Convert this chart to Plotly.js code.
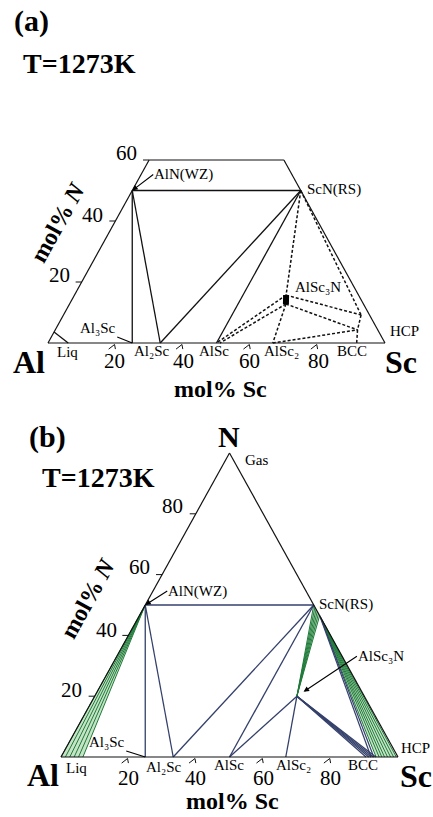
<!DOCTYPE html>
<html>
<head>
<meta charset="utf-8">
<script src="https://cdn.plot.ly/plotly-3.0.1.min.js"></script>
<style>
  html, body { margin: 0; padding: 0; background: #fff; }
  #chart { width: 433px; height: 817px; }
</style>
</head>
<body>
<div id="chart"></div>
<script>
// Al–Sc–N isothermal sections at 1273 K.
// All compositions are mol% Sc and mol% N (Al is the balance).

const TICKS = [20, 40, 60, 80];

// ---- (a) section, truncated at 60 mol% N ----
const aPhaseName = ['AlN', 'ScN', 'Al3Sc', 'Al2Sc', 'AlSc', 'AlSc_r', 'AlSc2', 'AlSc3N_t', 'AlSc3N_b', 'P1', 'P2', 'BCC', 'LiqN', 'LiqSc'];
const aPhaseSc   = [0,     50,    25,      33.3,    50,     51,       66.7,    62.8,       64.2,       88.3, 89.7, 91.6,  0,      6];
const aPhaseN    = [50,    50,    0,       0,       0,      0,        0,       15.7,       12.8,       9.2,  4.3,  0,     3.6,    0];
const aSolidTies = [['AlN', 'ScN'], ['AlN', 'Al3Sc'], ['AlN', 'Al2Sc'], ['Al2Sc', 'ScN'], ['AlSc', 'ScN'], ['LiqN', 'LiqSc']];
const aDashedTies = [['ScN', 'AlSc3N_t'], ['ScN', 'P1'], ['AlSc3N_t', 'P1'], ['AlSc3N_b', 'P2'],
                     ['AlSc3N_b', 'AlSc2'], ['AlSc3N_t', 'AlSc'], ['AlSc3N_b', 'AlSc_r'],
                     ['AlSc2', 'P2'], ['P1', 'P2'], ['P2', 'BCC']];
const aTopN = 60;

// ---- (b) full section ----
const bPhaseName = ['AlN', 'ScN', 'Al3Sc', 'Al2Sc', 'AlSc', 'AlSc2', 'AlSc3N'];
const bPhaseSc   = [0,     50,    25,      33.3,    50,     66.7,    60];
const bPhaseN    = [50,    50,    0,       0,       0,      0,       20];
const bNavyTies = [['AlN', 'ScN'], ['AlN', 'Al3Sc'], ['AlN', 'Al2Sc'], ['Al2Sc', 'ScN'],
                   ['AlSc', 'ScN'], ['AlSc', 'AlSc3N'], ['AlSc2', 'AlSc3N']];
// AlSc3N + BCC tie-lines, BCC end (mol% Sc)
const bBccFromAlSc3N = [90.5, 91.3, 92.0, 92.7, 93.4];
// ScN + BCC tie-lines: ScN end (mol% N on the Al-free edge) and BCC end (mol% Sc)
const bScnBccN  = [46.5, 46.0];
const bScnBccSc = [92.0, 92.8];
// ScN + AlSc3N tie-lines, ScN end (mol% N on the Al-free edge)
const bScnAlSc3nN = [50, 49.3, 48.6, 47.9, 47.2, 46.5];
// ScN + HCP tie-lines
const bScnHcpN  = [46.0, 45.6, 45.3, 45.0, 44.6, 44.3, 43.9, 43.5];
const bScnHcpSc = [93.5, 94.4, 95.2, 96.0, 96.9, 97.8, 98.7, 99.5];
// AlN + liquid tie-lines, liquid end (mol% Sc)
const bAlnLiqSc = [0, 1.3, 2.6, 3.9, 5.2, 6.5];

// ---------------------------------------------------------------
const W = 433, H = 817;
const SERIF = '"Liberation Serif", "Times New Roman", serif';
const NAVY = '#34406b';
const GREEN = '#1f7a3a';
const GREEN_FILL = 'rgba(150, 205, 150, 0.55)';

// pixel frame of each diagram: Al corner and scale (px per mol%)
const frameA = { x0: 48, y0: 343, sx: 3.37, sy: 3.05 };
const frameB = { x0: 61, y0: 757, sx: 3.37, sy: 3.04 };

// ternary -> cartesian (x along the Al–Sc base, y = mol% N)
const tx = (sc, n) => sc + n / 2;

function lookup(names, scs, ns) {
  const m = {};
  names.forEach((nm, i) => { m[nm] = [scs[i], ns[i]]; });
  return m;
}
const A = lookup(aPhaseName, aPhaseSc, aPhaseN);
const B = lookup(bPhaseName, bPhaseSc, bPhaseN);

function segTrace(segs, xa, ya, line) {
  const x = [], y = [];
  segs.forEach(s => {
    x.push(tx(s[0][0], s[0][1]), tx(s[1][0], s[1][1]), null);
    y.push(s[0][1], s[1][1], null);
  });
  return { type: 'scatter', mode: 'lines', x, y, xaxis: xa, yaxis: ya, line,
           hoverinfo: 'skip', showlegend: false, cliponaxis: false };
}
function polyTrace(pts, xa, ya, fill) {
  return { type: 'scatter', mode: 'lines', x: pts.map(p => tx(p[0], p[1])), y: pts.map(p => p[1]),
           xaxis: xa, yaxis: ya, fill: 'toself', fillcolor: fill, line: { width: 0 },
           hoverinfo: 'skip', showlegend: false };
}
// small tick marks: carets under the base, short ticks left of the Al–N edge
function baseCarets(vals) {
  return vals.map(t => [[t - 1.0, -2.0], [t, -0.5]]).concat(vals.map(t => [[t, -0.5], [t + 1.0, -2.0]]));
}
function leftTicks(vals) {
  return vals.map(t => [[-1.8, t], [0, t]]);
}

const traces = [];
const blackLine = { color: '#111', width: 1.2 };

// (a)
traces.push(segTrace([[[0, 0], [100, 0]], [[0, 0], [0, aTopN]], [[0, aTopN], [100 - aTopN, aTopN]], [[100 - aTopN, aTopN], [100, 0]]], 'x', 'y', blackLine));
traces.push(segTrace(aSolidTies.map(p => [A[p[0]], A[p[1]]]), 'x', 'y', { color: '#111', width: 1.3 }));
traces.push(segTrace(aDashedTies.map(p => [A[p[0]], A[p[1]]]), 'x', 'y', { color: '#111', width: 1.5, dash: '3px,2px' }));
traces.push(segTrace([[A['AlSc3N_t'], A['AlSc3N_b']]], 'x', 'y', { color: '#000', width: 6 }));
traces.push(segTrace(baseCarets(TICKS), 'x', 'y', { color: '#111', width: 1 }));
traces.push(segTrace(leftTicks([20, 40, 60]), 'x', 'y', { color: '#111', width: 1 }));

// (b) two-phase fans
const bLiqEnd = bAlnLiqSc[bAlnLiqSc.length - 1];
traces.push(polyTrace([B.AlN, [0, 0], [bLiqEnd, 0], B.AlN], 'x2', 'y2', GREEN_FILL));
const wN0 = bScnAlSc3nN[0], wN1 = bScnAlSc3nN[bScnAlSc3nN.length - 1];
traces.push(polyTrace([B.AlSc3N, [100 - wN0, wN0], [100 - wN1, wN1], B.AlSc3N], 'x2', 'y2', GREEN_FILL));
const hL = bScnHcpN.length - 1;
traces.push(polyTrace([[100 - bScnHcpN[0], bScnHcpN[0]], [bScnHcpSc[0], 0], [bScnHcpSc[hL], 0], [100 - bScnHcpN[hL], bScnHcpN[hL]]], 'x2', 'y2', GREEN_FILL));

traces.push(segTrace(bAlnLiqSc.map(s => [B.AlN, [s, 0]]), 'x2', 'y2', { color: GREEN, width: 1 }));
traces.push(segTrace(bScnAlSc3nN.map(n => [[100 - n, n], B.AlSc3N]), 'x2', 'y2', { color: GREEN, width: 1 }));
traces.push(segTrace(bScnHcpN.map((n, i) => [[100 - n, n], [bScnHcpSc[i], 0]]), 'x2', 'y2', { color: GREEN, width: 1 }));
traces.push(segTrace(bNavyTies.map(p => [B[p[0]], B[p[1]]]), 'x2', 'y2', { color: NAVY, width: 1.3 }));
traces.push(segTrace(bBccFromAlSc3N.map(s => [B.AlSc3N, [s, 0]]), 'x2', 'y2', { color: NAVY, width: 1.2 }));
traces.push(segTrace(bScnBccN.map((n, i) => [[100 - n, n], [bScnBccSc[i], 0]]), 'x2', 'y2', { color: NAVY, width: 1.2 }));
traces.push(segTrace([[[0, 0], [100, 0]], [[0, 0], [0, 100]], [[0, 100], [100, 0]]], 'x2', 'y2', blackLine));
traces.push(segTrace(baseCarets(TICKS), 'x2', 'y2', { color: '#111', width: 1 }));
traces.push(segTrace(leftTicks(TICKS), 'x2', 'y2', { color: '#111', width: 1 }));

// ---------------------------------------------------------------
function axesFor(frame, domTop, domBottom) {
  const xr = [-frame.x0 / frame.sx, (W - frame.x0) / frame.sx];
  const pTop = (1 - domTop) * H, pBot = (1 - domBottom) * H;
  const yTop = (frame.y0 - pTop) / frame.sy;
  const yBot = yTop - (pBot - pTop) / frame.sy;
  return {
    x: { domain: [0, 1], range: xr, visible: false, fixedrange: true },
    y: { domain: [domBottom, domTop], range: [yBot, yTop], visible: false, fixedrange: true }
  };
}
const axA = axesFor(frameA, 1, 0.5);
const axB = axesFor(frameB, 0.5, 0);

function label(text, px, py, size, extra) {
  return Object.assign({ xref: 'paper', yref: 'paper', x: px / W, y: 1 - py / H, text,
    showarrow: false, xanchor: 'center', yanchor: 'middle',
    font: { family: SERIF, size, color: '#000' } }, extra || {});
}
// labelled pointer: text box anchored at (ax, ay) px from the phase, arrow/leader to the phase
function pointer(text, xa, ya, comp, ax, ay, head, xanchor, yanchor, standoff) {
  return { xref: xa, yref: ya, x: tx(comp[0], comp[1]), y: comp[1], ax, ay, text,
    xanchor, yanchor, borderpad: 0,
    font: { family: SERIF, size: SMALL, color: '#000' },
    showarrow: true, arrowhead: head, arrowsize: 1, arrowwidth: 1.1, arrowcolor: '#000',
    standoff: standoff || 0 };
}

const SMALL = 15, NUM = 21, AXT = 24;
const annotations = [
  // (a)
  label('<b>(a)</b>', 31, 21, 30),
  label('<b>T=1273K</b>', 79, 63, 28),
  label('60', 127, 153, NUM), label('40', 92, 215, NUM), label('20', 60, 275, NUM),
  label('<b>mol% <i>N</i></b>', 58, 222, AXT, { textangle: -61 }),
  pointer('AlN(WZ)', 'x', 'y', A.AlN, 21, -16, 2, 'left', 'middle'),
  label('ScN(RS)', 305, 189, SMALL, { xanchor: 'left' }),
  label('AlSc₃N', 318, 287, SMALL),
  label('HCP', 404, 331, SMALL),
  pointer('Al₃Sc', 'x', 'y', A.Al3Sc, -15, -6, 0, 'right', 'bottom'),
  label('Liq', 67, 352, SMALL),
  label('Al₂Sc', 152, 351, SMALL),
  label('AlSc', 214, 351, SMALL),
  label('AlSc₂', 281, 351, SMALL),
  label('BCC', 352, 351, SMALL),
  label('20', 115, 361, NUM), label('40', 183, 361, NUM), label('60', 250, 361, NUM), label('80', 318, 361, NUM),
  label('<b>Al</b>', 29, 362, 32), label('<b>Sc</b>', 401, 362, 32),
  label('<b>mol% Sc</b>', 220, 389, AXT),
  // (b)
  label('<b>(b)</b>', 47, 437, 30),
  label('<b>T=1273K</b>', 98, 477, 28),
  label('<b>N</b>', 229, 436, 30),
  label('Gas', 256, 460, SMALL),
  label('80', 172, 506, NUM), label('60', 139, 567, NUM), label('40', 106, 630, NUM), label('20', 71, 690, NUM),
  label('<b>mol% <i>N</i></b>', 88, 598, AXT, { textangle: -61 }),
  pointer('AlN(WZ)', 'x2', 'y2', B.AlN, 22, -14, 2, 'left', 'middle'),
  label('ScN(RS)', 317, 604, SMALL, { xanchor: 'left' }),
  pointer('AlSc₃N', 'x2', 'y2', B.AlSc3N, 60, -40, 2, 'left', 'middle', 8),
  label('HCP', 415, 748, SMALL),
  pointer('Al₃Sc', 'x2', 'y2', B.Al3Sc, -19, -6, 0, 'right', 'bottom'),
  label('Liq', 76, 768, SMALL),
  label('Al₂Sc', 164, 767, SMALL),
  label('AlSc', 229, 765, SMALL),
  label('AlSc₂', 293, 765, SMALL),
  label('BCC', 363, 765, SMALL),
  label('20', 128, 778, NUM), label('40', 195, 778, NUM), label('60', 263, 778, NUM), label('80', 330, 778, NUM),
  label('<b>Al</b>', 43, 775, 32), label('<b>Sc</b>', 416, 776, 32),
  label('<b>mol% Sc</b>', 232, 801, AXT)
];

const layout = {
  width: W, height: H,
  margin: { l: 0, r: 0, t: 0, b: 0 },
  paper_bgcolor: '#fff', plot_bgcolor: 'rgba(0,0,0,0)',
  showlegend: false,
  xaxis: Object.assign({ anchor: 'y' }, axA.x),
  yaxis: Object.assign({ anchor: 'x' }, axA.y),
  xaxis2: Object.assign({ anchor: 'y2' }, axB.x),
  yaxis2: Object.assign({ anchor: 'x2' }, axB.y),
  annotations
};

Plotly.newPlot('chart', traces, layout, { staticPlot: true, displayModeBar: false });
</script>
</body>
</html>
